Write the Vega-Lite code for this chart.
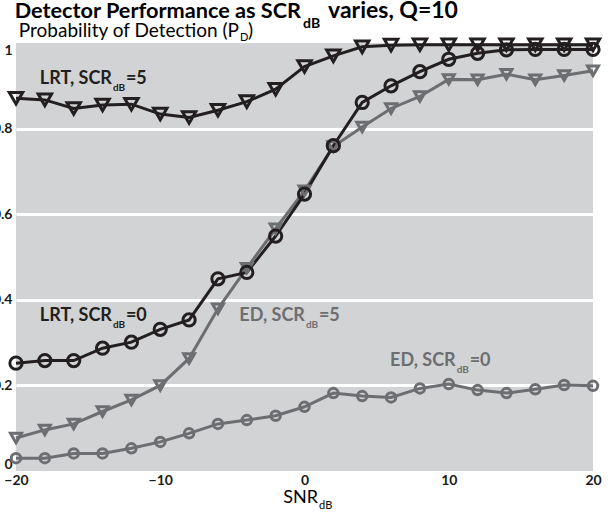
{
  "$schema": "https://vega.github.io/schema/vega-lite/v6.json",
  "width": 577,
  "height": 428,
  "autosize": {"type": "none"},
  "padding": {"left": 16, "top": 43, "right": 18, "bottom": 42},
  "background": "white",
  "config": {
    "view": {"fill": "#d1d3d4", "stroke": null},
    "font": "Lato"
  },
  "datasets": {
    "series": [
      {"snr": -20, "pd": 0.030, "series": "ED SCR0"},
      {"snr": -18, "pd": 0.030, "series": "ED SCR0"},
      {"snr": -16, "pd": 0.041, "series": "ED SCR0"},
      {"snr": -14, "pd": 0.041, "series": "ED SCR0"},
      {"snr": -12, "pd": 0.053, "series": "ED SCR0"},
      {"snr": -10, "pd": 0.068, "series": "ED SCR0"},
      {"snr": -8, "pd": 0.088, "series": "ED SCR0"},
      {"snr": -6, "pd": 0.110, "series": "ED SCR0"},
      {"snr": -4, "pd": 0.119, "series": "ED SCR0"},
      {"snr": -2, "pd": 0.129, "series": "ED SCR0"},
      {"snr": 0, "pd": 0.150, "series": "ED SCR0"},
      {"snr": 2, "pd": 0.182, "series": "ED SCR0"},
      {"snr": 4, "pd": 0.175, "series": "ED SCR0"},
      {"snr": 6, "pd": 0.172, "series": "ED SCR0"},
      {"snr": 8, "pd": 0.193, "series": "ED SCR0"},
      {"snr": 10, "pd": 0.203, "series": "ED SCR0"},
      {"snr": 12, "pd": 0.189, "series": "ED SCR0"},
      {"snr": 14, "pd": 0.182, "series": "ED SCR0"},
      {"snr": 16, "pd": 0.191, "series": "ED SCR0"},
      {"snr": 18, "pd": 0.201, "series": "ED SCR0"},
      {"snr": 20, "pd": 0.199, "series": "ED SCR0"},
      {"snr": -20, "pd": 0.077, "series": "ED SCR5"},
      {"snr": -18, "pd": 0.096, "series": "ED SCR5"},
      {"snr": -16, "pd": 0.110, "series": "ED SCR5"},
      {"snr": -14, "pd": 0.139, "series": "ED SCR5"},
      {"snr": -12, "pd": 0.166, "series": "ED SCR5"},
      {"snr": -10, "pd": 0.200, "series": "ED SCR5"},
      {"snr": -8, "pd": 0.263, "series": "ED SCR5"},
      {"snr": -6, "pd": 0.379, "series": "ED SCR5"},
      {"snr": -4, "pd": 0.474, "series": "ED SCR5"},
      {"snr": -2, "pd": 0.566, "series": "ED SCR5"},
      {"snr": 0, "pd": 0.655, "series": "ED SCR5"},
      {"snr": 2, "pd": 0.758, "series": "ED SCR5"},
      {"snr": 4, "pd": 0.804, "series": "ED SCR5"},
      {"snr": 6, "pd": 0.847, "series": "ED SCR5"},
      {"snr": 8, "pd": 0.875, "series": "ED SCR5"},
      {"snr": 10, "pd": 0.915, "series": "ED SCR5"},
      {"snr": 12, "pd": 0.914, "series": "ED SCR5"},
      {"snr": 14, "pd": 0.927, "series": "ED SCR5"},
      {"snr": 16, "pd": 0.914, "series": "ED SCR5"},
      {"snr": 18, "pd": 0.924, "series": "ED SCR5"},
      {"snr": 20, "pd": 0.935, "series": "ED SCR5"},
      {"snr": -20, "pd": 0.252, "series": "LRT SCR0"},
      {"snr": -18, "pd": 0.258, "series": "LRT SCR0"},
      {"snr": -16, "pd": 0.258, "series": "LRT SCR0"},
      {"snr": -14, "pd": 0.287, "series": "LRT SCR0"},
      {"snr": -12, "pd": 0.301, "series": "LRT SCR0"},
      {"snr": -10, "pd": 0.331, "series": "LRT SCR0"},
      {"snr": -8, "pd": 0.353, "series": "LRT SCR0"},
      {"snr": -6, "pd": 0.449, "series": "LRT SCR0"},
      {"snr": -4, "pd": 0.464, "series": "LRT SCR0"},
      {"snr": -2, "pd": 0.549, "series": "LRT SCR0"},
      {"snr": 0, "pd": 0.647, "series": "LRT SCR0"},
      {"snr": 2, "pd": 0.760, "series": "LRT SCR0"},
      {"snr": 4, "pd": 0.861, "series": "LRT SCR0"},
      {"snr": 6, "pd": 0.900, "series": "LRT SCR0"},
      {"snr": 8, "pd": 0.933, "series": "LRT SCR0"},
      {"snr": 10, "pd": 0.962, "series": "LRT SCR0"},
      {"snr": 12, "pd": 0.976, "series": "LRT SCR0"},
      {"snr": 14, "pd": 0.984, "series": "LRT SCR0"},
      {"snr": 16, "pd": 0.985, "series": "LRT SCR0"},
      {"snr": 18, "pd": 0.985, "series": "LRT SCR0"},
      {"snr": 20, "pd": 0.985, "series": "LRT SCR0"},
      {"snr": -20, "pd": 0.871, "series": "LRT SCR5"},
      {"snr": -18, "pd": 0.867, "series": "LRT SCR5"},
      {"snr": -16, "pd": 0.847, "series": "LRT SCR5"},
      {"snr": -14, "pd": 0.855, "series": "LRT SCR5"},
      {"snr": -12, "pd": 0.857, "series": "LRT SCR5"},
      {"snr": -10, "pd": 0.834, "series": "LRT SCR5"},
      {"snr": -8, "pd": 0.826, "series": "LRT SCR5"},
      {"snr": -6, "pd": 0.843, "series": "LRT SCR5"},
      {"snr": -4, "pd": 0.863, "series": "LRT SCR5"},
      {"snr": -2, "pd": 0.892, "series": "LRT SCR5"},
      {"snr": 0, "pd": 0.945, "series": "LRT SCR5"},
      {"snr": 2, "pd": 0.970, "series": "LRT SCR5"},
      {"snr": 4, "pd": 0.991, "series": "LRT SCR5"},
      {"snr": 6, "pd": 0.995, "series": "LRT SCR5"},
      {"snr": 8, "pd": 0.996, "series": "LRT SCR5"},
      {"snr": 10, "pd": 0.996, "series": "LRT SCR5"},
      {"snr": 12, "pd": 0.996, "series": "LRT SCR5"},
      {"snr": 14, "pd": 0.996, "series": "LRT SCR5"},
      {"snr": 16, "pd": 0.996, "series": "LRT SCR5"},
      {"snr": 18, "pd": 0.996, "series": "LRT SCR5"},
      {"snr": 20, "pd": 0.996, "series": "LRT SCR5"}
    ],
    "notes": [
      {"snr": -13.35, "pd": 0.904, "pre": "LRT, SCR", "sub": "dB", "post": "=5", "series": "LRT SCR5"},
      {"snr": -13.35, "pd": 0.350, "pre": "LRT, SCR", "sub": "dB", "post": "=0", "series": "LRT SCR0"},
      {"snr": 0.03, "pd": 0.351, "pre": "ED, SCR", "sub": "dB", "post": "=5", "series": "ED SCR5"},
      {"snr": 10.48, "pd": 0.246, "pre": "ED, SCR", "sub": "dB", "post": "=0", "series": "ED SCR0"}
    ],
    "maintitle": [
      {"snr": -0.24, "pd": 1.059, "pre": "Detector Performance as SCR", "sub": "dB", "post": "varies, Q=10"}
    ],
    "ytitle": [
      {"snr": -4.54, "pd": 1.014, "pre": "Probability of Detection (P", "sub": "D", "post": ")"}
    ],
    "xtitle": [
      {"snr": 0.94, "pd": -0.0748, "pre": "SNR", "sub": "dB"}
    ]
  },
  "encoding": {
    "x": {
      "field": "snr", "type": "quantitative",
      "scale": {"domain": [-20, 20], "nice": false, "zero": false},
      "axis": {
        "values": [-20, -10, 0, 10, 20],
        "grid": false, "domain": false, "ticks": false, "tickSize": 0,
        "labelPadding": 2, "labelFlush": false,
        "labelFont": "Lato", "labelFontWeight": "bold", "labelFontSize": 14, "labelColor": "#1a1a1a",
        "title": null
      }
    },
    "y": {
      "field": "pd", "type": "quantitative",
      "scale": {"domain": [0, 1], "nice": false},
      "axis": {
        "values": [0, 0.2, 0.4, 0.6, 0.8, 1],
        "format": ".1~f",
        "grid": true, "gridColor": "white", "gridWidth": 3,
        "gridOpacity": {"condition": {"test": "datum.value == 0 || datum.value == 1", "value": 0}, "value": 1},
        "domain": false, "ticks": false, "tickSize": 0,
        "labelPadding": 4, "labelFlush": true,
        "labelFont": "Lato", "labelFontWeight": "bold", "labelFontSize": 14, "labelColor": "#1a1a1a",
        "title": null
      }
    }
  },
  "layer": [
    {
      "data": {"name": "series"},
      "mark": {"type": "line", "strokeWidth": 3},
      "encoding": {
        "color": {"field": "series", "type": "nominal", "legend": null,
          "scale": {"domain": ["ED SCR0", "ED SCR5", "LRT SCR0", "LRT SCR5"], "range": ["#6d6e71", "#6d6e71", "#231f20", "#231f20"]}}
      }
    },
    {
      "data": {"name": "series"},
      "mark": {"type": "point", "filled": false, "strokeWidth": 3, "opacity": 1},
      "encoding": {
        "color": {"field": "series", "type": "nominal", "legend": null},
        "shape": {"field": "series", "type": "nominal", "legend": null,
          "scale": {"domain": ["ED SCR0", "ED SCR5", "LRT SCR0", "LRT SCR5"], "range": ["circle", "triangle-down", "circle", "triangle-down"]}},
        "size": {"field": "series", "type": "nominal", "legend": null,
          "scale": {"domain": ["ED SCR0", "ED SCR5", "LRT SCR0", "LRT SCR5"], "range": [90, 180, 90, 180]}}
      }
    },
    {
      "data": {"name": "notes"},
      "mark": {"type": "text", "align": "right", "baseline": "alphabetic", "fontSize": 18, "fontWeight": "bold", "font": "Lato"},
      "encoding": {"text": {"field": "pre"}, "color": {"field": "series", "type": "nominal", "legend": null}}
    },
    {
      "data": {"name": "notes"},
      "mark": {"type": "text", "align": "left", "baseline": "alphabetic", "fontSize": 10, "fontWeight": "bold", "font": "Lato", "dx": 1, "dy": 7},
      "encoding": {"text": {"field": "sub"}, "color": {"field": "series", "type": "nominal", "legend": null}}
    },
    {
      "data": {"name": "notes"},
      "mark": {"type": "text", "align": "left", "baseline": "alphabetic", "fontSize": 18, "fontWeight": "bold", "font": "Lato", "dx": 14},
      "encoding": {"text": {"field": "post"}, "color": {"field": "series", "type": "nominal", "legend": null}}
    },
    {
      "data": {"name": "maintitle"},
      "mark": {"type": "text", "align": "right", "baseline": "alphabetic", "fontSize": 21.7, "fontWeight": "bold", "font": "Lato", "color": "#000000"},
      "encoding": {"text": {"field": "pre"}}
    },
    {
      "data": {"name": "maintitle"},
      "mark": {"type": "text", "align": "left", "baseline": "alphabetic", "fontSize": 14, "fontWeight": "bold", "font": "Lato", "color": "#000000", "dx": 2, "dy": 10},
      "encoding": {"text": {"field": "sub"}}
    },
    {
      "data": {"name": "maintitle"},
      "mark": {"type": "text", "align": "left", "baseline": "alphabetic", "fontSize": 23, "fontWeight": "bold", "font": "Lato", "color": "#000000", "dx": 27},
      "encoding": {"text": {"field": "post"}}
    },
    {
      "data": {"name": "ytitle"},
      "mark": {"type": "text", "align": "right", "baseline": "alphabetic", "fontSize": 19, "font": "Lato", "color": "#000000"},
      "encoding": {"text": {"field": "pre"}}
    },
    {
      "data": {"name": "ytitle"},
      "mark": {"type": "text", "align": "left", "baseline": "alphabetic", "fontSize": 11, "font": "Lato", "color": "#000000", "dx": 1, "dy": 4},
      "encoding": {"text": {"field": "sub"}}
    },
    {
      "data": {"name": "ytitle"},
      "mark": {"type": "text", "align": "left", "baseline": "alphabetic", "fontSize": 19, "font": "Lato", "color": "#000000", "dx": 9},
      "encoding": {"text": {"field": "post"}}
    },
    {
      "data": {"name": "xtitle"},
      "mark": {"type": "text", "align": "right", "baseline": "alphabetic", "fontSize": 18, "font": "Lato", "color": "#000000"},
      "encoding": {"text": {"field": "pre"}}
    },
    {
      "data": {"name": "xtitle"},
      "mark": {"type": "text", "align": "left", "baseline": "alphabetic", "fontSize": 11, "font": "Lato", "color": "#000000", "dx": 1, "dy": 6},
      "encoding": {"text": {"field": "sub"}}
    }
  ]
}
